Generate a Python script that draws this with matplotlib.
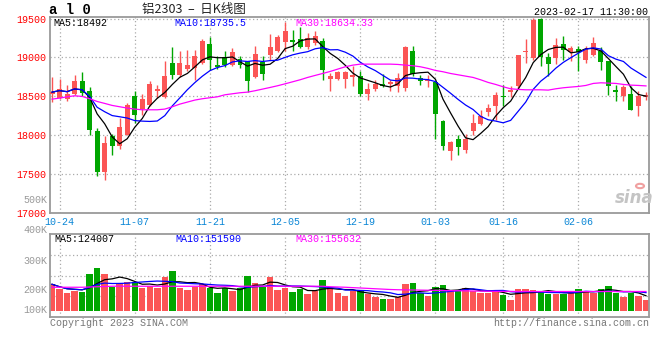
import numpy as np
import pandas as pd
import matplotlib.pyplot as plt
from matplotlib.patches import Circle

# al2303 daily candles, index 0 = 2022-10-21 ... index 79 = 2023-02-17
opens = [18533, 18477, 18469, 18529, 18691, 18572, 18049, 17526, 17993, 17856,
         18006, 18507, 18340, 18383, 18563, 18486, 18927, 18777, 18854, 18863,
         18927, 19176, 18906, 19000, 18906, 18983, 18949, 18743, 18936, 19026,
         19077, 19197, 19219, 19240, 19137, 19189, 19214, 18726, 18726, 18726,
         18743, 18756, 18529, 18597, 18661, 18657, 18627, 18606, 19077, 18734,
         18691, 18679, 18177, 17792, 17954, 17813, 18049, 18147, 18297, 18370,
         18507, 18550, 18627, 19064, 18991, 19497, 19000, 18991, 19171, 19069,
         19107, 18961, 19034, 19086, 18949, 18584, 18499, 18533, 18370, 18490]
highs = [18751, 18721, 18640, 18777, 18811, 18614, 18092, 17984, 18014, 18224,
         18413, 18572, 18529, 18691, 18649, 18949, 19129, 19086, 19099, 19099,
         19240, 19261, 19013, 19086, 19120, 19013, 18957, 19150, 19013, 19300,
         19291, 19454, 19347, 19390, 19313, 19343, 19249, 18799, 18829, 18829,
         18884, 18829, 18670, 18713, 18786, 18713, 18799, 19141, 19141, 18777,
         18777, 18691, 18199, 17929, 17997, 18014, 18272, 18327, 18400, 18554,
         18640, 18627, 19034, 19240, 19506, 19506, 19056, 19249, 19270, 19141,
         19141, 19141, 19257, 19129, 18949, 18640, 18640, 18627, 18563, 18554]
lows = [18430, 18464, 18443, 18520, 18499, 18006, 17470, 17419, 17740, 17826,
        17997, 18156, 18263, 18370, 18477, 18477, 18726, 18743, 18820, 18713,
        18914, 18841, 18854, 18871, 18884, 18863, 18554, 18734, 18713, 18970,
        19069, 19086, 19086, 19120, 19107, 19163, 18713, 18572, 18713, 18606,
        18627, 18499, 18456, 18572, 18614, 18572, 18554, 18563, 18756, 18649,
        18614, 17956, 17813, 17676, 17740, 17770, 17997, 18134, 18242, 18199,
        18370, 18486, 18597, 18927, 18970, 18884, 18756, 18914, 18970, 18949,
        18829, 18927, 19021, 18841, 18520, 18443, 18443, 18319, 18242, 18447]
closes = [18554, 18593, 18533, 18700, 18542, 18070, 17526, 17899, 17856, 18100,
          18392, 18263, 18464, 18661, 18597, 18764, 18777, 18927, 18906, 19021,
          19214, 18970, 18871, 18906, 19069, 18906, 18691, 19043, 18790, 19133,
          19266, 19334, 19197, 19133, 19249, 19279, 18841, 18756, 18811, 18811,
          18777, 18529, 18597, 18657, 18636, 18679, 18734, 19129, 18786, 18691,
          18713, 18272, 17856, 17907, 17843, 17954, 18156, 18250, 18349, 18520,
          18490, 18584, 19026, 19086, 19484, 19000, 18914, 19163, 19099, 19120,
          19069, 19111, 19184, 18936, 18627, 18559, 18614, 18319, 18499, 18520]
volumes = [214, 174, 146, 160, 154, 294, 346, 298, 194, 226,
           232, 232, 186, 202, 186, 274, 322, 184, 168, 192,
           218, 186, 144, 184, 158, 182, 282, 226, 192, 272,
           168, 186, 152, 178, 136, 162, 248, 182, 146, 120,
           160, 160, 136, 110, 96, 96, 110, 216, 224, 142,
           120, 192, 208, 160, 160, 184, 162, 146, 146, 160,
           128, 88, 176, 176, 168, 160, 136, 136, 136, 154,
           176, 160, 146, 176, 200, 146, 110, 146, 120, 88]
volumes = [v * 1000 for v in volumes]

ma30 = [18464, 18477, 18494, 18507, 18499, 18469, 18434, 18409, 18383, 18366,
        18349, 18336, 18327, 18327, 18327, 18336, 18366, 18400, 18426, 18452,
        18469, 18482, 18494, 18520, 18533, 18546, 18554, 18572, 18593, 18614,
        18636, 18661, 18687, 18713, 18743, 18769, 18794, 18820, 18850, 18880,
        18901, 18914, 18914, 18914, 18914, 18914, 18910, 18901, 18893, 18880,
        18859, 18833, 18816, 18794, 18777, 18760, 18743, 18713, 18679, 18653,
        18623, 18597, 18589, 18584, 18584, 18584, 18580, 18597, 18610, 18619,
        18627, 18640, 18666, 18674, 18670, 18666, 18653, 18644, 18640, 18634]
vol_ma30 = [190, 190, 190, 190, 190, 192, 194, 196, 198, 199,
            198, 198, 198, 198, 198, 198, 198, 198, 198, 198,
            198, 198, 198, 198, 198, 198, 198, 198, 198, 198,
            198, 198, 198, 198, 198, 198, 198, 194, 192, 190,
            187, 184, 181, 178, 175, 172, 170, 169, 168, 167,
            166, 165, 164, 163, 162, 161, 160, 159, 158, 157,
            157, 157, 156, 156, 156, 156, 156, 156, 156, 156,
            156, 156, 156, 156, 156, 156, 156, 156, 156, 156]
vol_ma30 = [v * 1000 for v in vol_ma30]

tick_idx = [1, 11, 21, 31, 41, 51, 60, 70]
tick_labels = ["10-24", "11-07", "11-21", "12-05", "12-19", "01-03", "01-16", "02-06"]
price_ticks = [17000, 17500, 18000, 18500, 19000, 19500]
vol_labels = ["500K", "400K", "300K", "200K", "100K"]
price_legend = ["MA5:18492", "MA10:18735.5", "MA30:18634.33"]
vol_legend = ["MA5:124007", "MA10:151590", "MA30:155632"]

RED = '#fb5555'
GREEN = '#00a600'
MA_COLS = ['black', '#0000ff', '#ff00ff']
GRID = '#aaaaaa'
MONO = 'Liberation Mono'
FS = 7.2

W, H = 660, 360


def box(l, t, r, b):
    return [l / W, 1 - b / H, (r - l) / W, (b - t) / H]


def px(xp, yp):
    return xp / W, 1 - yp / H


o, h, l, c = map(np.array, (opens, highs, lows, closes))
x = np.arange(len(c))
cols = np.where(c > o, RED, GREEN)
ma5 = pd.Series(c).rolling(5, min_periods=1).mean()
ma10 = pd.Series(c).rolling(10, min_periods=1).mean()
vol = pd.Series(volumes)
vma5 = vol.rolling(5, min_periods=1).mean()
vma10 = vol.rolling(10, min_periods=1).mean()

fig = plt.figure(figsize=(6.6, 3.6), dpi=100)
ax = fig.add_axes(box(50, 17, 649, 213))
axv = fig.add_axes(box(50, 234, 649, 317), sharex=ax)

# price panel
ax.vlines(x, l, h, colors=cols, linewidth=1, zorder=2)
ax.bar(x, np.maximum(np.abs(c - o), 12), bottom=np.minimum(o, c), width=0.66,
       color=cols, linewidth=0, zorder=3)
for ser, col in zip([ma5, ma10, ma30], MA_COLS):
    ax.plot(x, ser, color=col, linewidth=0.9, zorder=4)
ax.set_xlim(-0.27, 79.4)
ax.set_ylim(17000, 19520)
ax.set_yticks(price_ticks)
ax.set_yticklabels([str(p) for p in price_ticks], color='#ff0000',
                   fontfamily=MONO, fontsize=FS)
ax.set_xticks(tick_idx)
ax.set_xticklabels(tick_labels, color='#0a86d6', fontfamily=MONO, fontsize=FS)
ax.tick_params(length=0, pad=3)
ax.tick_params(axis='y', pad=2.5)
ax.grid(True, color=GRID, linestyle=(0, (1, 2)), linewidth=0.9, zorder=0)
ax.set_axisbelow(True)

# volume panel
axv.bar(x, volumes, width=0.86, color=cols, linewidth=0, zorder=2)
for ser, col in zip([vma5, vma10, vol_ma30], MA_COLS):
    axv.plot(x, ser, color=col, linewidth=0.9, zorder=4)
axv.set_ylim(-48000, 616000)
axv.set_yticks([])
axv.tick_params(length=0, labelbottom=False)
axv.grid(True, axis='x', color=GRID, linestyle=(0, (1, 2)), linewidth=0.9, zorder=0)
for f in (0.25, 0.5, 0.75):
    axv.plot([0, 1], [f, f], transform=axv.transAxes, color=GRID,
             linestyle=(0, (1, 2)), linewidth=0.9, zorder=1)
axv.set_axisbelow(True)

for a in (ax, axv):
    for sp in a.spines.values():
        sp.set_color('#9a9a9a')
        sp.set_linewidth(1.3)

# texts
fig.text(*px(49, 10), "a l 0", fontfamily=MONO, fontweight='bold', fontsize=10,
         ha='left', va='center', color='black')
fig.text(*px(194, 10), "铝2303  –  日K线图", family=['Noto Sans CJK SC', 'DejaVu Sans'],
         fontsize=9, ha='center', va='center', color='#222222')
fig.text(*px(648, 12), "2023-02-17 11:30:00", fontfamily=MONO, fontsize=FS,
         ha='right', va='center', color='black')
for txt, xp, col in zip(price_legend, [53, 174, 295], MA_COLS):
    fig.text(*px(xp, 23), txt, fontfamily=MONO, fontsize=FS, ha='left',
             va='center', color=col)
for txt, xp, col in zip(vol_legend, [54, 175, 295], MA_COLS):
    fig.text(*px(xp, 238.5), txt, fontfamily=MONO, fontsize=FS, ha='left',
             va='center', color=col)
for txt, yp in zip(vol_labels, [200, 230, 261.5, 290.3, 310]):
    fig.text(*px(47, yp), txt, fontfamily=MONO, fontsize=FS, ha='right',
             va='center', color='#999999')
fig.text(*px(50, 323.5), "Copyright 2023 SINA.COM", fontfamily=MONO, fontsize=FS,
         ha='left', va='center', color='#777777')
fig.text(*px(649, 323.5), "http://finance.sina.com.cn", fontfamily=MONO, fontsize=FS,
         ha='right', va='center', color='#777777')

# sina watermark
fig.text(*px(634, 198), "sina", fontsize=12, fontstyle='italic', fontweight='bold',
         ha='center', va='center', color='#c4c4c4')
fig.patches.append(Circle(px(640, 186), 4 / W, transform=fig.transFigure,
                          facecolor='none', edgecolor='#f0a0a0', linewidth=1.5))

fig.savefig('out.png', dpi=100)
